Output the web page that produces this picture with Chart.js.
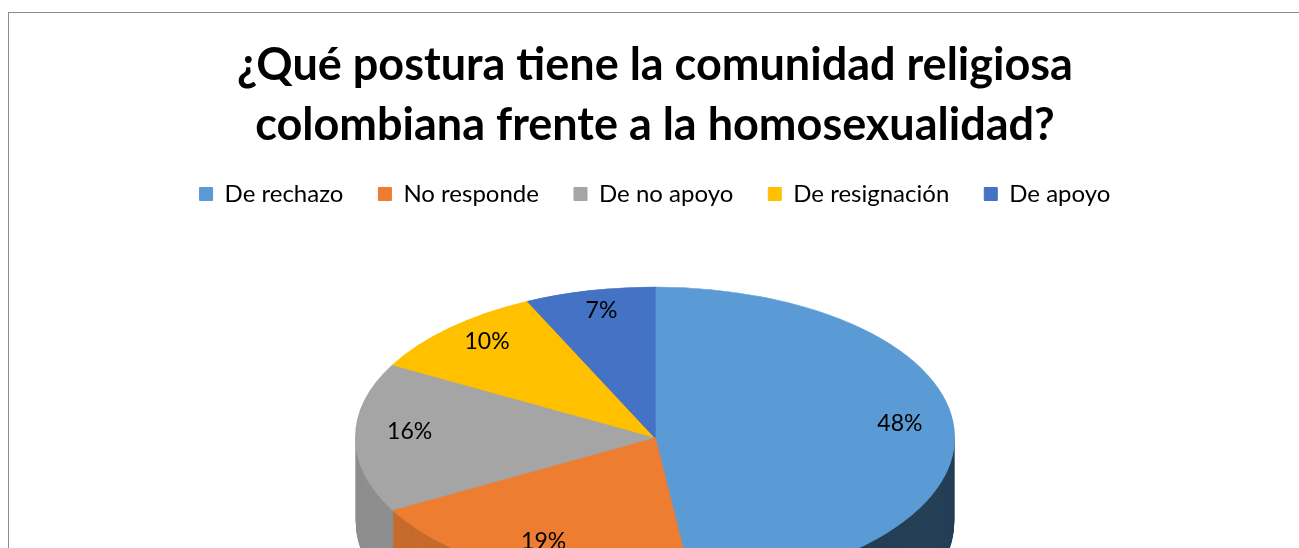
<!DOCTYPE html>
<html><head><meta charset="utf-8">
<script src="https://cdn.jsdelivr.net/npm/chart.js@4"></script>
<style>
html,body{margin:0;padding:0;background:#fff;overflow:hidden;width:1299px;height:548px}
#frame{position:absolute;left:8px;top:12px;width:1400px;height:800px;border:1px solid #8c8c8c;box-sizing:border-box}
#wrap{position:absolute;left:0;top:0;width:1299px;height:700px}
</style></head><body>
<div id="frame"></div>
<div id="wrap"><canvas id="c" width="1299" height="700"></canvas></div>
<script>
const titleLines = ['¿Qué postura tiene la comunidad religiosa', 'colombiana frente a la homosexualidad?'];
const categories = ['De rechazo', 'No responde', 'De no apoyo', 'De resignación', 'De apoyo'];
const values = [48, 19, 16, 10, 7];
const topColors = ['#5B9BD5', '#ED7D31', '#A5A5A5', '#FFC000', '#4472C4'];
const sideColors = ['#243F56', '#C66B2C', '#8E8E8E', '#D4A000', '#34599B'];

const STRETCH_X = 1.354;   // horizontal stretch of the pie face
const TILT = 0.503;        // ellipse height / width
const DEPTH = 85;          // thickness of the 3D pie, px
const LABEL_POS = 0.82;
const LABEL_LIFT = -6;
const FONT = 'Lato, "Open Sans", sans-serif';

const tiltPlugin = {
  id: 'tilt3d',
  beforeDatasetsDraw(chart) {
    const ctx = chart.ctx;
    const arcs = chart.getDatasetMeta(0).data;
    if (!arcs.length) return;
    const cx = arcs[0].x, cy = arcs[0].y, r = arcs[0].outerRadius;
    const sx = STRETCH_X, sy = STRETCH_X * TILT;
    const face = (dy) => { ctx.translate(cx, cy + dy); ctx.scale(sx, sy); ctx.translate(-cx, -cy); };
    for (let d = DEPTH; d >= 1; d--) {
      arcs.forEach((a, i) => {
        ctx.save(); face(d);
        ctx.beginPath();
        ctx.moveTo(a.x, a.y);
        ctx.arc(a.x, a.y, a.outerRadius, a.startAngle, a.endAngle);
        ctx.closePath();
        ctx.fillStyle = sideColors[i];
        ctx.fill();
        ctx.restore();
      });
    }
    arcs.forEach(a => { ctx.save(); face(0); a.draw(ctx); ctx.restore(); });
    ctx.save();
    ctx.font = '23px ' + FONT;
    ctx.fillStyle = '#000';
    ctx.textAlign = 'center';
    ctx.textBaseline = 'middle';
    arcs.forEach((a, i) => {
      const mid = (a.startAngle + a.endAngle) / 2;
      const x = cx + sx * LABEL_POS * r * Math.cos(mid);
      const y = cy + sy * LABEL_POS * r * Math.sin(mid) + LABEL_LIFT;
      ctx.fillText(values[i] + '%', x, y);
    });
    ctx.restore();
    return false;
  }
};

new Chart(document.getElementById('c'), {
  type: 'pie',
  data: {
    labels: categories,
    datasets: [{
      data: values,
      backgroundColor: topColors,
      borderColor: topColors,
      borderWidth: 1,
      clip: false
    }]
  },
  options: {
    responsive: false,
    animation: false,
    devicePixelRatio: 1,
    layout: { padding: { left: 11, right: 0, top: 0, bottom: 41 } },
    plugins: {
      title: {
        display: true,
        text: titleLines,
        color: '#000',
        font: { family: FONT, size: 45, weight: 'bold', lineHeight: 1.3333 },
        padding: { top: 35, bottom: -8 }
      },
      legend: {
        position: 'top',
        labels: {
          color: '#000',
          font: { family: FONT, size: 24 },
          boxWidth: 13, boxHeight: 13,
          padding: 35
        }
      },
      tooltip: { enabled: false }
    }
  },
  plugins: [tiltPlugin]
});
</script>
</body></html>
